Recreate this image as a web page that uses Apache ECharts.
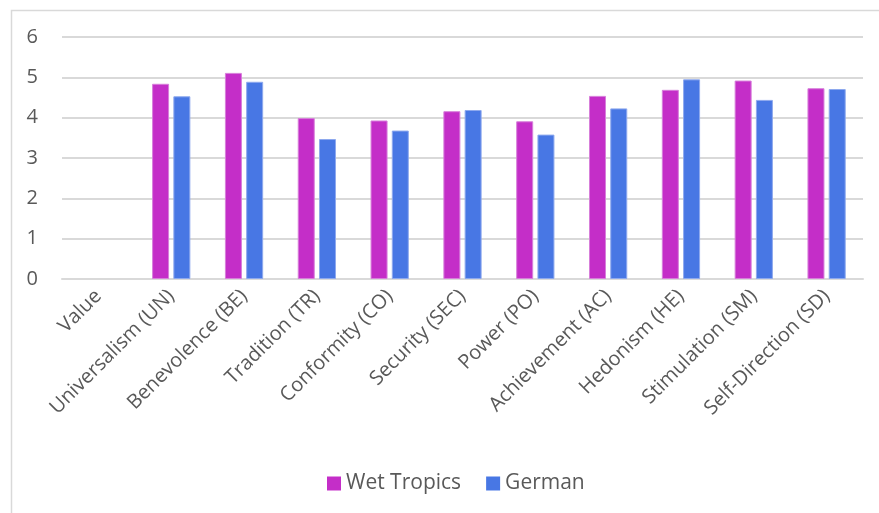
<!DOCTYPE html>
<html>
<head>
<meta charset="utf-8">
<script src="https://cdn.jsdelivr.net/npm/echarts@6/dist/echarts.min.js"></script>
<style>
  html, body { margin: 0; padding: 0; background: #fff; }
  #chart { width: 879px; height: 513px; }
</style>
</head>
<body>
<div id="chart"></div>
<script>
// Schwartz value dimensions, mean scores per sample
const categories = [
  'Value', 'Universalism (UN)', 'Benevolence (BE)', 'Tradition (TR)',
  'Conformity (CO)', 'Security (SEC)', 'Power (PO)', 'Achievement (AC)',
  'Hedonism (HE)', 'Stimulation (SM)', 'Self-Direction (SD)'
];
const wetTropics = [null, 4.84, 5.11, 3.99, 3.93, 4.16, 3.91, 4.54, 4.69, 4.92, 4.73];
const german     = [null, 4.53, 4.89, 3.47, 3.68, 4.19, 3.58, 4.23, 4.95, 4.44, 4.71];
const yTicks = [0, 1, 2, 3, 4, 5, 6];

const FONT = '"Open Sans", "Noto Sans", sans-serif';
const TEXT = '#595959';

const chart = echarts.init(document.getElementById('chart'));
chart.setOption({
  animation: false,
  backgroundColor: '#fff',
  graphic: [{
    type: 'rect',
    left: 9, top: 8,
    shape: { width: 1000, height: 700 },
    style: { fill: 'none', stroke: '#d9d9d9', lineWidth: 1.5 },
    silent: true
  }],
  grid: { left: 62, right: 16, top: 37, bottom: 234, containLabel: false },
  legend: {
    top: 468,
    left: 322,
    itemWidth: 14, itemHeight: 14, itemGap: 25,
    icon: 'rect',
    itemStyle: { borderWidth: 0 },
    textStyle: { fontFamily: FONT, fontSize: 21, color: TEXT },
    data: ['Wet Tropics', 'German']
  },
  xAxis: {
    type: 'category',
    data: categories,
    axisLine: { lineStyle: { color: '#d9d9d9', width: 2 } },
    axisTick: { show: false },
    axisLabel: {
      interval: 0, rotate: 45, margin: 14,
      fontFamily: FONT, fontSize: 20, color: TEXT
    }
  },
  yAxis: {
    type: 'value',
    min: yTicks[0], max: yTicks[yTicks.length - 1], interval: 1,
    axisLine: { show: false },
    axisTick: { show: false },
    splitLine: { lineStyle: { color: '#d9d9d9', width: 2 } },
    axisLabel: { fontFamily: FONT, fontSize: 20, color: TEXT, margin: 24 }
  },
  series: [
    {
      name: 'Wet Tropics', type: 'bar', data: wetTropics,
      barWidth: 17, barGap: '25%',
      itemStyle: { color: '#C42EC8', borderColor: '#D77FDA', borderWidth: 1 }
    },
    {
      name: 'German', type: 'bar', data: german,
      barWidth: 17, barGap: '25%',
      itemStyle: { color: '#4877E4', borderColor: '#8EA9EE', borderWidth: 1 }
    }
  ]
});
</script>
</body>
</html>
